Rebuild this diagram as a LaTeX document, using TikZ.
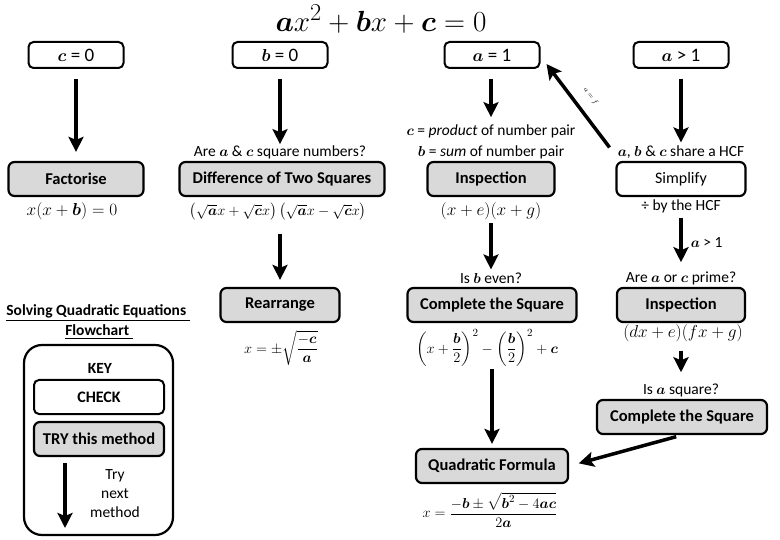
\documentclass[tikz,border=0pt]{standalone}
\usepackage{amsmath}
\usepackage{fontspec}
\setmainfont{Carlito}
\usetikzlibrary{arrows.meta}
\newcommand{\bA}{\boldsymbol{a}}
\newcommand{\bB}{\boldsymbol{b}}
\newcommand{\bC}{\boldsymbol{c}}
\begin{document}
\begin{tikzpicture}
  [x=1pt,y=-1pt,
   every node/.style={font=\fontsize{15.5}{19}\selectfont,inner sep=1pt},
   check/.style={draw,fill=white,rounded corners=5pt,line width=2pt,
     minimum width=95pt,minimum height=26pt,font=\fontsize{19}{21}\selectfont},
   try/.style={draw,fill=black!15,rounded corners=6pt,line width=2.2pt,
     minimum height=34pt,font=\fontsize{16.5}{19}\selectfont\bfseries},
   formula/.style={font=\fontsize{17}{20}\selectfont},
   arr/.style={line width=3.5pt,-{Stealth[length=15pt,width=15pt,inset=3pt]}}]
\useasboundingbox (0,0) rectangle (780,540);
\node (title) at (381,19) {\scalebox{1.17}{\fontsize{24.88}{28}\selectfont $\bA x^2+\bB x+\bC=0$}};
% top row
\node (c0)[check] at (76,55) {$\bC$ = 0};
\node (b0)[check] at (280,55) {$\bB$ = 0};
\node (a1)[check] at (492,55) {$\bA$ = 1};
\node (ag1)[check] at (681,55) {$\bA$ > 1};
% second row
\node (fact)[try,minimum width=135pt] at (76,179) {Factorise};
\node (cap1)[formula] at (72,211) {$x(x+\bB)=0$};
\node (q2) at (280,152) {Are $\bA$ \& $\bC$ square numbers?};
\node (dots)[try,minimum width=205pt] at (282,179) {Difference of Two Squares};
\node (cap2)[formula,font=\fontsize{15}{18}\selectfont] at (278,212)
  {$\left(\sqrt{\bA}x+\sqrt{\bC}x\right)\left(\sqrt{\bA}x-\sqrt{\bC}x\right)$};
\node (q3a) at (491,131) {$\bC$ = \textit{product} of number pair};
\node (q3b) at (491,152) {$\bB$ = \textit{sum} of number pair};
\node (insp1)[try,minimum width=127pt] at (491,179) {Inspection};
\node (cap3)[formula] at (491,211) {$(x+e)(x+g)$};
\node (q4) at (681,152) {$\bA$, $\bB$ \& $\bC$ share a HCF};
\node (simp)[try,fill=white,minimum width=129pt,font=\fontsize{16}{19}\selectfont] at (681,179) {Simplify};
\node (cap4) at (681,206) {÷ by the HCF};
% third row
\node (rearr)[try,minimum width=119pt] at (280,305) {Rearrange};
\node (cap5r)[font=\fontsize{14}{17}\selectfont] at (281,348) {$x=\pm\sqrt{\dfrac{-\bC}{\bA}}$};
\node (q5) at (491,278) {Is $\bB$ even?};
\node (cts1)[try,minimum width=169pt] at (492,305) {Complete the Square};
\node (cap6)[font=\fontsize{15.5}{18}\selectfont] at (487,348)
  {$\displaystyle\left(x+\frac{\bB}{2}\right)^{2}-\left(\frac{\bB}{2}\right)^{2}+\bC$};
\node (q6) at (681,278) {Are $\bA$ or $\bC$ prime?};
\node (insp2)[try,minimum width=128pt] at (681,305) {Inspection};
\node (cap5)[formula] at (683,333) {$(dx+e)(fx+g)$};
\node (q7) at (681,390) {Is $\bA$ square?};
\node (cts2)[try,minimum width=170pt] at (682,417) {Complete the Square};
\node (quad)[try,minimum width=152pt] at (492,466) {Quadratic Formula};
\node (cap7)[font=\fontsize{15}{18}\selectfont] at (490,510) {$x=\dfrac{-\bB\pm\sqrt{\bB^2-4\bA\bC}}{2\bA}$};
% key
\node (head1) at (98,313) {\bfseries\underline{Solving Quadratic Equations~}};
\node (head2) at (99,332) {\bfseries\underline{Flowchart~}};
\node (keybox)[draw,rounded corners=18pt,line width=2.2pt,minimum width=149pt,minimum height=190pt] at (98.5,440) {};
\node (keyt) at (100,368) {\bfseries KEY};
\node (checkk)[check,minimum width=130pt,minimum height=34pt,font=\fontsize{16}{19}\selectfont\bfseries] at (99,397) {CHECK};
\node (tryk)[try,minimum width=130pt] at (99,439) {TRY this method};
\node (nextk)[align=center] at (115,494) {Try\\next\\method};
\coordinate (kend) at (65,528);
% arrows
\foreach \from/\to/\a/\s in {c0/fact/10pt/9pt,b0/q2/10pt/0pt,a1/q3a/10pt/6pt,ag1/q4/10pt/2pt,
    cap2/rearr/12pt/7pt,cap3/q5/2pt/2pt,cap5/q7/8pt/10pt,cap6/quad/1pt/4pt}
  \draw[arr,shorten <=\a,shorten >=\s] (\to |- \from.south) -- (\to.north);
\draw[arr,shorten <=4pt,shorten >=8pt] (cap4.south) -- (q6.north)
  node[midway,right=7pt] {$\bA$ > 1};
\draw[arr,shorten <=6pt,shorten >=10pt] (cts2.south) -- (quad.east);
\draw[arr] ([xshift=-7pt,yshift=-3pt]q4.north west) -- ([xshift=6pt,yshift=5pt]a1.south east)
  node[midway,sloped,above=10pt,font=\fontsize{7}{8}\selectfont] {$a=f$};
\draw[arr,shorten <=6pt] (tryk.south -| kend) -- (kend);
\end{tikzpicture}
\end{document}
